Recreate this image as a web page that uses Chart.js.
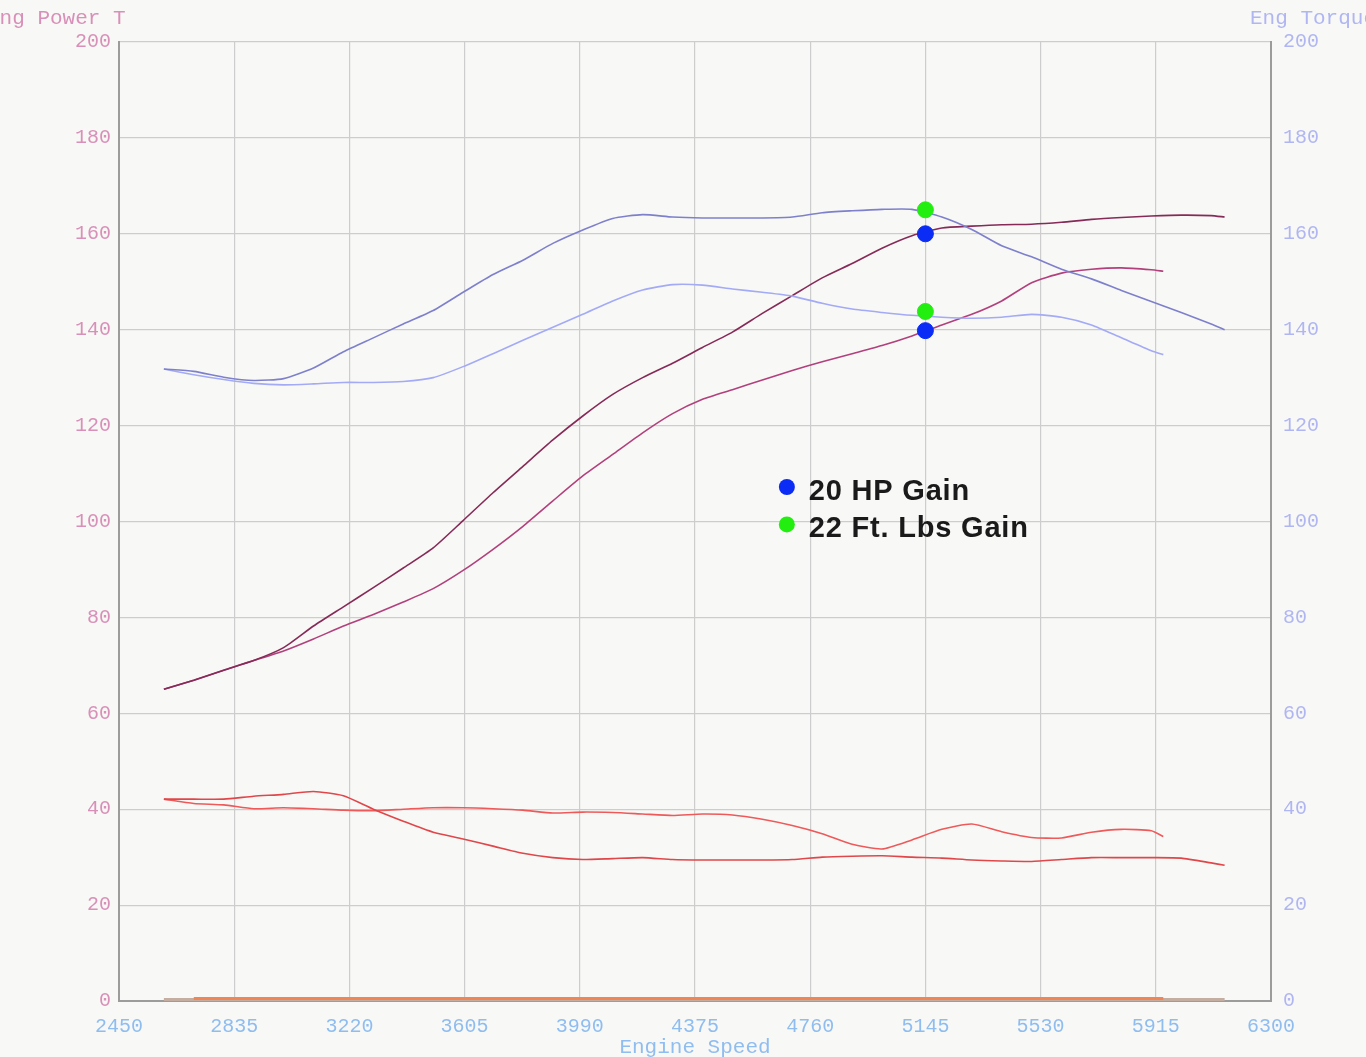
<!DOCTYPE html>
<html>
<head>
<meta charset="utf-8">
<script src="https://cdn.jsdelivr.net/npm/chart.js@4.4.1/dist/chart.umd.min.js"></script>
<style>
  html, body { margin: 0; padding: 0; background: #f8f8f6; }
  #dyno { display: block; }
</style>
</head>
<body>
<canvas id="dyno" width="1366" height="1057"></canvas>
<script>
// tick labels
var rpmTicks = [2450, 2835, 3220, 3605, 3990, 4375, 4760, 5145, 5530, 5915, 6300];

// run after mods (goes to 6145)
var rpmNew = [2600, 2700, 2800, 2900, 3000, 3100, 3200, 3300, 3400, 3500, 3600, 3700, 3800, 3900, 4000, 4100, 4200, 4300, 4400, 4500, 4600, 4700, 4800, 4900, 5000, 5100, 5200, 5300, 5400, 5500, 5600, 5700, 5800, 5900, 6000, 6100, 6145];
var torqueNew = [131.8, 131.3, 130.1, 129.4, 129.8, 132, 135.4, 138.3, 141.2, 144, 147.8, 151.5, 154.5, 158, 160.8, 163.2, 164, 163.5, 163.3, 163.3, 163.3, 163.5, 164.4, 164.8, 165.1, 165.1, 163.5, 160.9, 157.5, 155.2, 152.6, 150.6, 148.2, 145.9, 143.6, 141.2, 140.0];
var powerNew = [65, 66.9, 69, 71, 73.7, 78.2, 82.2, 86.2, 90.3, 94.5, 100.2, 106, 111.5, 117, 122, 126.5, 130, 133, 136.3, 139.5, 143.4, 147.1, 150.8, 153.8, 157, 159.6, 161.2, 161.6, 161.9, 162, 162.4, 163, 163.4, 163.7, 163.9, 163.8, 163.5];
var afrNew = [42.1, 42.1, 42.1, 42.7, 43.1, 43.7, 42.8, 40, 37.5, 35.2, 33.8, 32.3, 30.8, 29.9, 29.5, 29.7, 29.9, 29.5, 29.4, 29.4, 29.4, 29.5, 30, 30.2, 30.3, 30, 29.8, 29.4, 29.2, 29.1, 29.5, 29.9, 29.9, 29.9, 29.8, 28.8, 28.3];

// baseline run (goes to 5940)
var rpmOld = [2600, 2700, 2800, 2900, 3000, 3100, 3200, 3300, 3400, 3500, 3600, 3700, 3800, 3900, 4000, 4100, 4200, 4300, 4400, 4500, 4600, 4700, 4800, 4900, 5000, 5100, 5200, 5300, 5400, 5500, 5600, 5700, 5800, 5900, 5940];
var torqueOld = [131.8, 130.6, 129.6, 128.8, 128.5, 128.7, 129, 129, 129.2, 130, 132.3, 135, 137.8, 140.5, 143.2, 146, 148.3, 149.4, 149.3, 148.5, 147.8, 147, 145.5, 144.3, 143.6, 143, 142.6, 142.4, 142.6, 143.2, 142.6, 141, 138.3, 135.6, 134.8];
var powerOld = [65, 66.9, 69, 71, 73, 75.5, 78.2, 80.6, 83.2, 86, 89.8, 94.2, 99, 104.3, 109.5, 114, 118.5, 122.5, 125.5, 127.5, 129.5, 131.5, 133.3, 135, 136.7, 138.7, 141, 143.2, 146, 149.8, 151.8, 152.6, 152.9, 152.5, 152.2];
var afrOld = [42.1, 41.2, 40.9, 40.1, 40.3, 40.1, 39.8, 39.7, 40, 40.3, 40.3, 40.1, 39.8, 39.2, 39.4, 39.3, 39, 38.7, 39, 38.8, 37.9, 36.6, 34.9, 32.7, 31.7, 33.6, 35.8, 36.9, 35.3, 34.1, 34, 35.2, 35.8, 35.5, 34.3];

// flat traces along the bottom
var baseRpmNew = [2600, 6145];
var baseNew = [0.3, 0.3];
var baseRpmOld = [2700, 5940];
var baseOld = [0.5, 0.5];

// gain markers at 5145 rpm
var gainRpm = 5145;
var hpMarks = [160, 139.8];
var tqMarks = [165, 143.8];
var gainLabels = ['20 HP Gain', '22 Ft. Lbs Gain'];

function pts(xs, ys) {
    var out = [];
    for (var i = 0; i < xs.length; i++) out.push({ x: xs[i], y: ys[i] });
    return out;
}

function line(label, xs, ys, colour, axis, w) {
    return { type: 'line', label: label, data: pts(xs, ys), borderColor: colour, backgroundColor: colour,
             borderWidth: w || 1.6, pointRadius: 0, tension: 0.2, fill: false, yAxisID: axis, order: 2, clip: 6 };
}

var mono = '"Liberation Mono", "DejaVu Sans Mono", monospace';

var textPlugin = {
    id: 'dynoText',
    afterDraw: function (chart) {
        var ctx = chart.ctx;
        var xs = chart.scales.x, ys = chart.scales.y;
        ctx.save();
        ctx.font = '21px ' + mono;
        ctx.textBaseline = 'middle';
        ctx.fillStyle = '#d890b8';
        ctx.textAlign = 'left';
        ctx.fillText('Eng Power T', -13, 18);
        ctx.fillStyle = '#b0b6f2';
        ctx.fillText('Eng Torque', 1250, 18);
        ctx.fillStyle = '#8fbdf0';
        ctx.textAlign = 'center';
        ctx.fillText('Engine Speed', (chart.chartArea.left + chart.chartArea.right) / 2, 1047);

        // gain legend
        var cols = ['#0a2cf5', '#22ee10'];
        var lx = xs.getPixelForValue(4682);
        for (var i = 0; i < gainLabels.length; i++) {
            var ly = ys.getPixelForValue(107.2 - i * 7.8);
            ctx.beginPath();
            ctx.arc(lx, ly, 8, 0, Math.PI * 2);
            ctx.fillStyle = cols[i];
            ctx.fill();
            ctx.fillStyle = '#1a1a1a';
            ctx.textAlign = 'left';
            ctx.font = 'bold 29px "Liberation Sans", Arial, sans-serif';
            ctx.letterSpacing = '0.8px';
            ctx.fillText(gainLabels[i], lx + 22, ly + 5);
        }
        ctx.restore();
    }
};

var ctx = document.getElementById('dyno');
var chart = new Chart(ctx, {
    data: {
        datasets: [
            { type: 'scatter', label: 'hp gain', data: pts([gainRpm, gainRpm], hpMarks), pointRadius: 8, pointHoverRadius: 8,
              backgroundColor: '#0a2cf5', borderColor: '#0a2cf5', yAxisID: 'y', order: 0 },
            { type: 'scatter', label: 'tq gain', data: pts([gainRpm, gainRpm], tqMarks), pointRadius: 8, pointHoverRadius: 8,
              backgroundColor: '#22ee10', borderColor: '#22ee10', yAxisID: 'y1', order: 0 },
            line('Torque new', rpmNew, torqueNew, '#7e80cc', 'y1'),
            line('Torque old', rpmOld, torqueOld, '#a3aaf6', 'y1'),
            line('Power new', rpmNew, powerNew, '#862a57', 'y'),
            line('Power old', rpmOld, powerOld, '#b2407c', 'y'),
            line('AFR new', rpmNew, afrNew, '#e0474a', 'y'),
            line('AFR old', rpmOld, afrOld, '#ee5a5a', 'y'),
            line('Base old', baseRpmOld, baseOld, '#f08556', 'y', 3),
            line('Base new', baseRpmNew, baseNew, '#c4aea2', 'y', 3)
        ]
    },
    options: {
        responsive: false,
        animation: false,
        layout: { padding: { top: 42, left: 0, right: 0, bottom: 0 } },
        plugins: { legend: { display: false }, tooltip: { enabled: false } },
        scales: {
            x: {
                type: 'linear', min: 2450, max: 6300,
                afterBuildTicks: function (s) { s.ticks = rpmTicks.map(function (v) { return { value: v }; }); },
                afterFit: function (s) { s.height = 56; },
                grid: { color: '#cdcdcd', lineWidth: 1.2, drawTicks: false },
                border: { color: '#9c9c9c', width: 2 },
                ticks: { color: '#8fbdf0', font: { family: mono, size: 20 }, padding: 14, maxRotation: 0, autoSkip: false,
                         callback: function (v) { return String(v); } }
            },
            y: {
                position: 'left', min: 0, max: 200,
                ticks: { stepSize: 20, color: '#d890b8', font: { family: mono, size: 20 }, padding: 8 },
                afterFit: function (s) { s.width = 119; },
                grid: { color: '#cdcdcd', lineWidth: 1.2, drawTicks: false },
                border: { color: '#9c9c9c', width: 2 }
            },
            y1: {
                position: 'right', min: 0, max: 200,
                ticks: { stepSize: 20, color: '#b0b6f2', font: { family: mono, size: 20 }, padding: 12 },
                afterFit: function (s) { s.width = 95; },
                grid: { drawOnChartArea: false, drawTicks: false },
                border: { color: '#9c9c9c', width: 2 }
            }
        }
    },
    plugins: [textPlugin]
});
</script>
</body>
</html>
